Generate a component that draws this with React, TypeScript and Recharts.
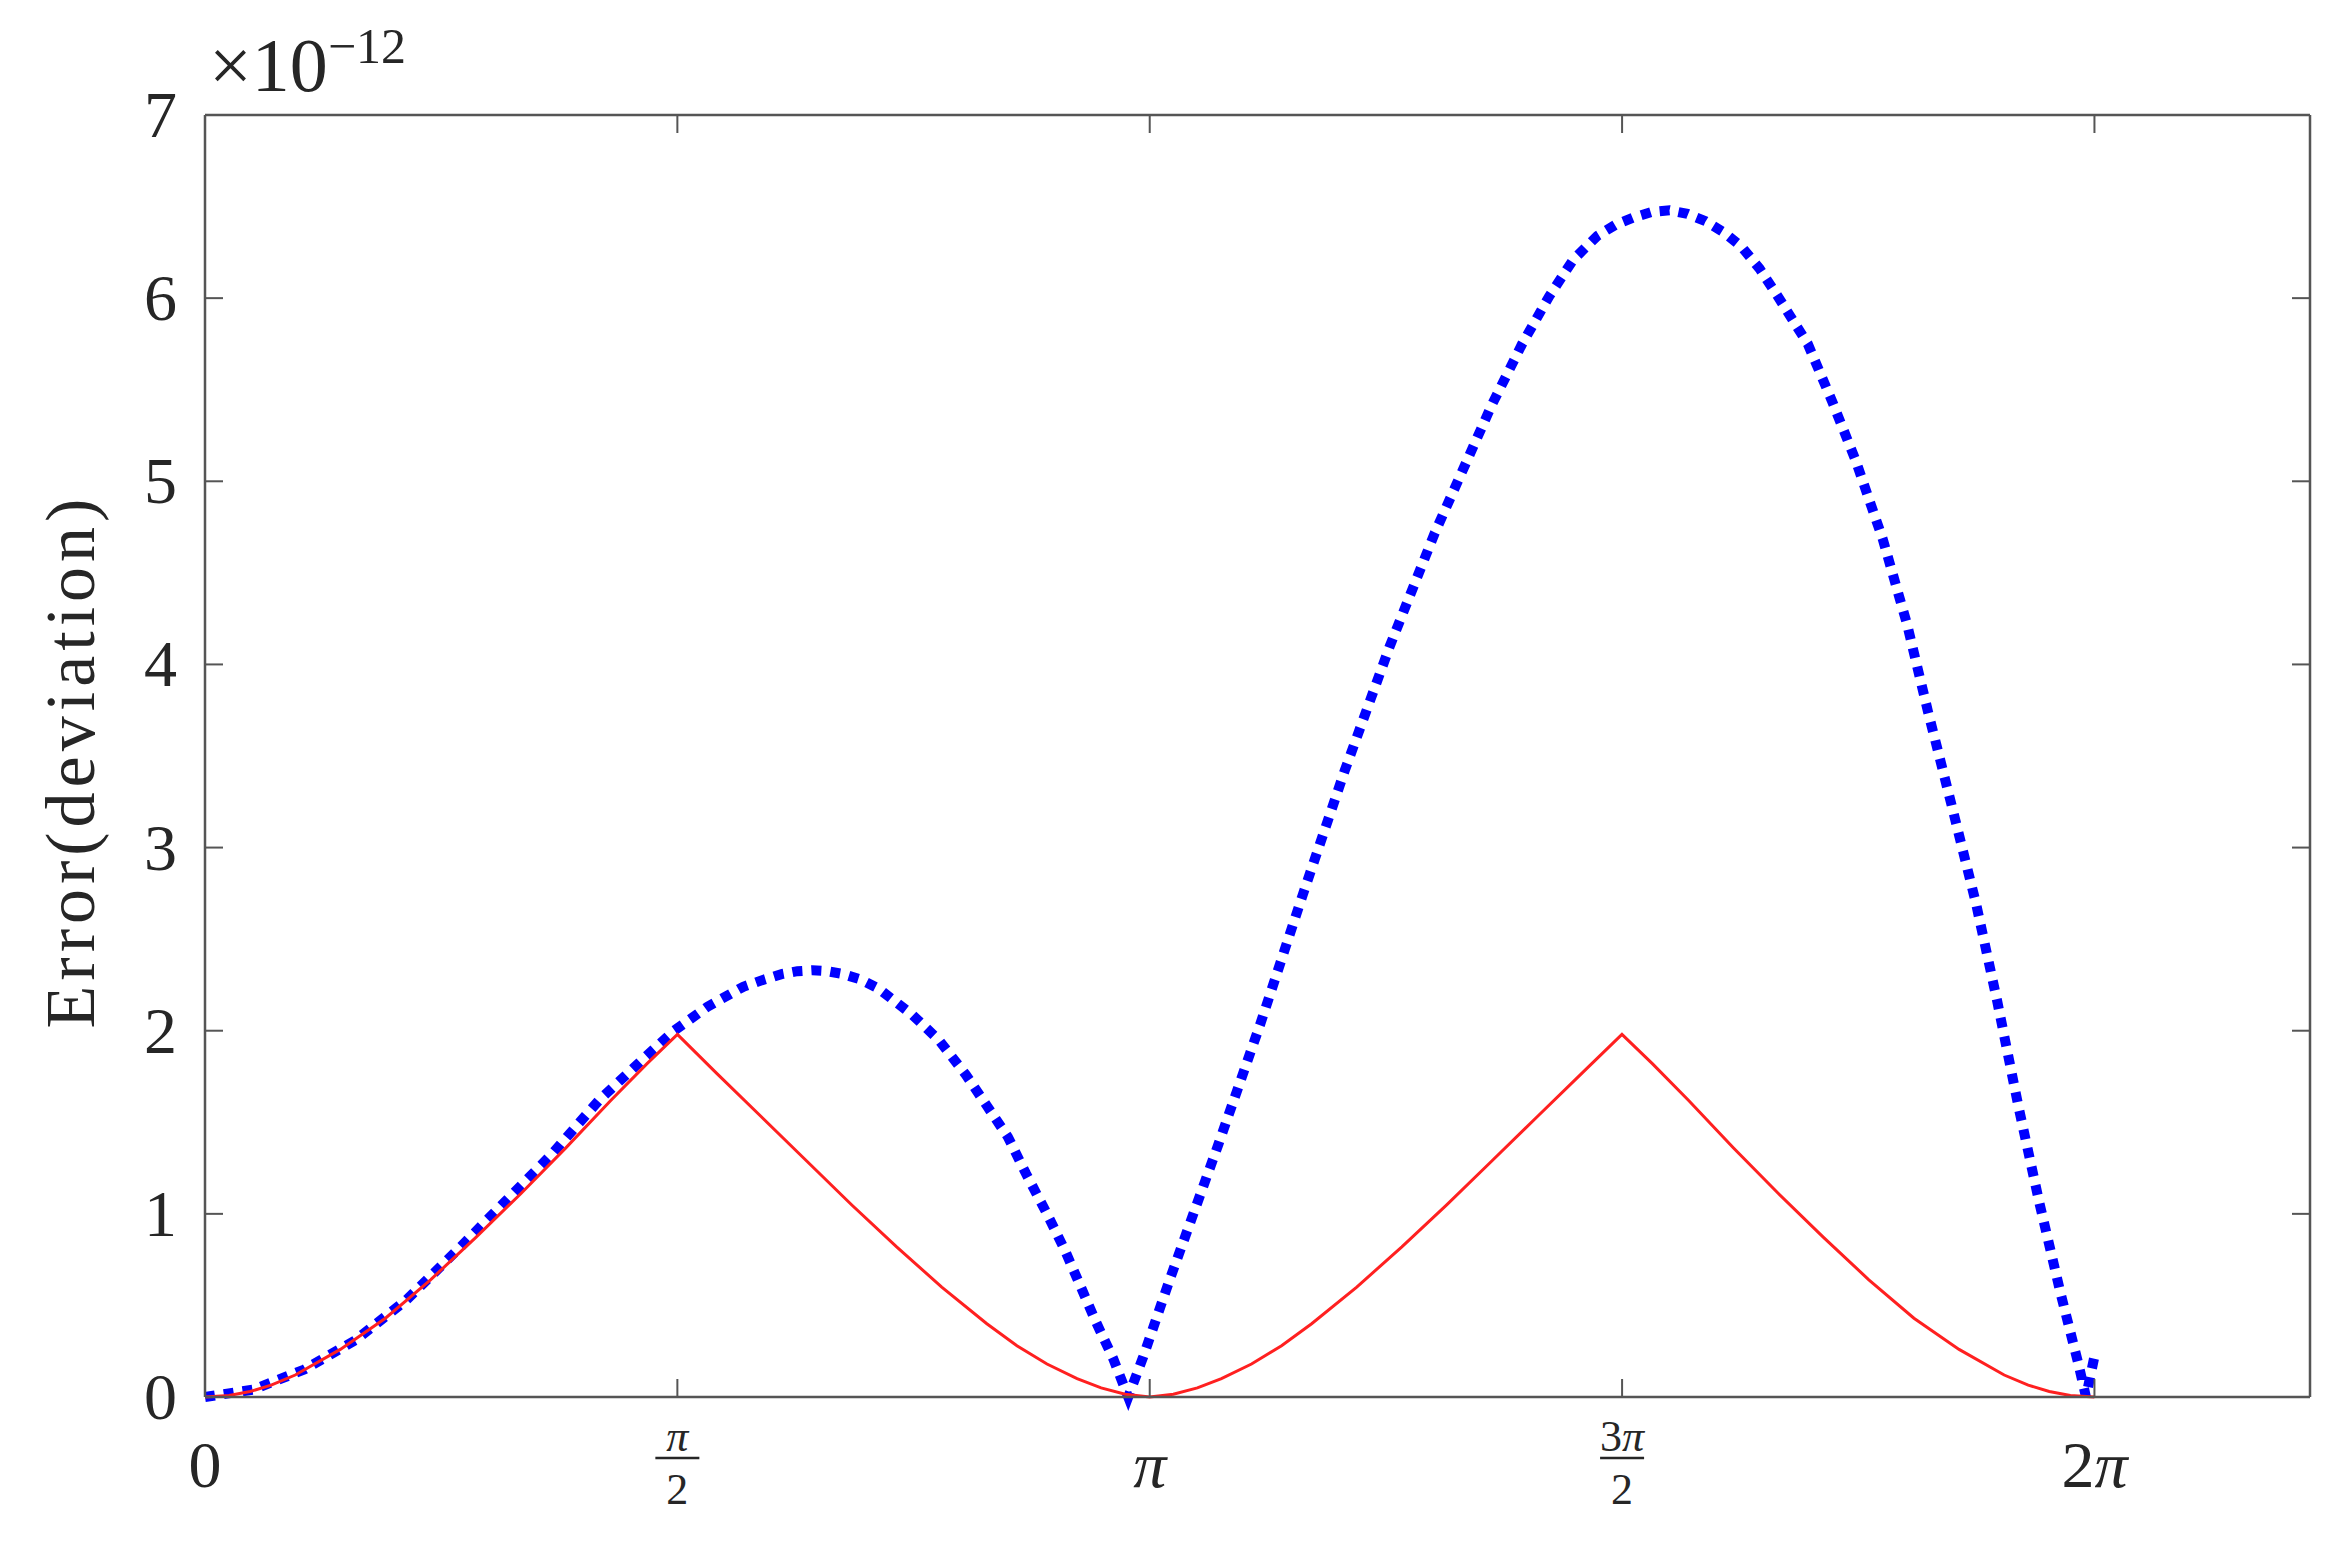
import React from 'react'
import { LineChart, Line, XAxis, YAxis } from 'recharts'

// x in radians, y in units of 1e-12
const redX = [
  0, 0.08, 0.15, 0.22, 0.3, 0.45, 0.6, 0.75, 0.9, 1.05, 1.2, 1.35, 1.47, 1.571,
  1.7, 1.85, 2.0, 2.15, 2.3, 2.45, 2.6, 2.7, 2.8, 2.9, 2.98, 3.06, 3.1416,
  3.22, 3.3, 3.38, 3.48, 3.58, 3.68, 3.83, 3.98, 4.13, 4.28, 4.43, 4.58, 4.712,
  4.813, 4.933, 5.083, 5.233, 5.383, 5.533, 5.683, 5.833, 5.983, 6.063, 6.133, 6.203, 6.283,
]
const redY = [
  0, 0.008, 0.03, 0.065, 0.12, 0.26, 0.43, 0.64, 0.87, 1.11, 1.36, 1.62, 1.82, 1.98,
  1.77, 1.53, 1.29, 1.05, 0.82, 0.6, 0.4, 0.28, 0.18, 0.1, 0.05, 0.015, 0,
  0.015, 0.05, 0.1, 0.18, 0.28, 0.4, 0.6, 0.82, 1.05, 1.29, 1.53, 1.77, 1.98,
  1.82, 1.62, 1.36, 1.11, 0.87, 0.64, 0.43, 0.26, 0.12, 0.065, 0.03, 0.008, 0,
]

const blueX = [
  0, 0.16, 0.33, 0.5, 0.67, 0.85, 1.0, 1.15, 1.31, 1.46, 1.56, 1.67, 1.79, 1.86, 1.92,
  1.97, 2.02, 2.07, 2.12, 2.18, 2.24, 2.35, 2.44, 2.53, 2.6, 2.67, 2.73, 2.8, 2.86,
  2.91, 2.96, 3.02, 3.07, 3.12, 3.21, 3.37, 3.51, 3.65, 3.79, 3.94, 4.09, 4.28, 4.38,
  4.47, 4.55, 4.63, 4.69, 4.75, 4.81, 4.87, 4.93, 4.99, 5.05, 5.11, 5.17, 5.23, 5.33,
  5.41, 5.49, 5.58, 5.66, 5.73, 5.81, 5.89, 5.96, 6.03, 6.1, 6.17, 6.23, 6.255, 6.283,
]
const blueY = [
  0, 0.04, 0.15, 0.31, 0.53, 0.82, 1.07, 1.32, 1.62, 1.85, 2.0, 2.13, 2.24, 2.28, 2.31,
  2.325, 2.33, 2.325, 2.31, 2.28, 2.23, 2.09, 1.95, 1.76, 1.59, 1.42, 1.22, 1.0, 0.8,
  0.61, 0.42, 0.21, 0, 0.22, 0.65, 1.38, 2.04, 2.74, 3.42, 4.1, 4.72, 5.42, 5.75,
  6.01, 6.21, 6.34, 6.4, 6.44, 6.47, 6.48, 6.46, 6.42, 6.36, 6.28, 6.16, 6.01, 5.75,
  5.44, 5.11, 4.68, 4.22, 3.74, 3.22, 2.69, 2.16, 1.59, 1.06, 0.57, 0.18, 0, 0.22,
]

const xTicks = [0, Math.PI / 2, Math.PI, (3 * Math.PI) / 2, 2 * Math.PI]
const xTickNum = ['0', 'π', 'π', '3π', '2π']
const xTickDen = ['', '2', '', '2', '']
const yTicks = [0, 1, 2, 3, 4, 5, 6, 7]

const redData = redX.map((x, i) => ({ x, y: redY[i] }))
const blueData = blueX.map((x, i) => ({ x, y: blueY[i] }))

const FONT = '"Liberation Serif", "Times New Roman", serif'
const INK = '#262626'
const FRAME = '#555'
const TICK = 18

function PiText({ s }: { s: string }) {
  const lead = s.replace('π', '')
  return (
    <>
      {lead}
      {s.includes('π') && <tspan fontStyle="italic">π</tspan>}
    </>
  )
}

function BottomTick(props: any) {
  const { x, y, index } = props
  const num = xTickNum[index]
  const den = xTickDen[index]
  return (
    <g>
      <line x1={x} y1={y} x2={x} y2={y - TICK} stroke={FRAME} strokeWidth={2} />
      {den ? (
        <g fontFamily={FONT} fill={INK} textAnchor="middle">
          <text x={x} y={y + 54} fontSize={44}>
            <PiText s={num} />
          </text>
          <line x1={x - 22} x2={x + 22} y1={y + 61} y2={y + 61} stroke={INK} strokeWidth={2.5} />
          <text x={x} y={y + 107} fontSize={44}>{den}</text>
        </g>
      ) : (
        <text x={x} y={y + 90} fontFamily={FONT} fontSize={66} fill={INK} textAnchor="middle">
          <PiText s={num} />
        </text>
      )}
    </g>
  )
}

function TopTick(props: any) {
  const { x, y } = props
  return <line x1={x} y1={y} x2={x} y2={y + TICK} stroke={FRAME} strokeWidth={2} />
}

function LeftTick(props: any) {
  const { x, y, payload } = props
  return (
    <g>
      <line x1={x} y1={y} x2={x + TICK} y2={y} stroke={FRAME} strokeWidth={2} />
      <text x={x - 28} y={y + 22} fontFamily={FONT} fontSize={66} fill={INK} textAnchor="end">
        {payload.value}
      </text>
    </g>
  )
}

function RightTick(props: any) {
  const { x, y } = props
  return <line x1={x - TICK} y1={y} x2={x} y2={y} stroke={FRAME} strokeWidth={2} />
}

function YLabel(props: any) {
  const vb = props.viewBox
  const cx = vb.x - 35
  const cy = vb.y + vb.height / 2 + 5
  return (
    <text
      x={cx}
      y={cy}
      transform={`rotate(-90 ${cx} ${cy})`}
      textAnchor="middle"
      dominantBaseline="central"
      fontFamily={FONT}
      fontSize={70}
      letterSpacing={5}
      fill={INK}
    >
      Error(deviation)
    </text>
  )
}

// exponent label above the top-left corner of the frame
function ScaleLabel(props: any) {
  const vb = props.viewBox
  return (
    <text x={vb.x + 4} y={vb.y - 23} fontFamily={FONT} fontSize={76} fill={INK}>
      ×10
      <tspan fontSize={50} dy={-28}>−12</tspan>
    </text>
  )
}

export default function App() {
  return (
    <div style={{ position: 'absolute', left: 0, top: 0, width: 2350, height: 1550, background: '#fff' }}>
      <LineChart width={2350} height={1550} margin={{ top: 114, right: 39, bottom: 53, left: 105 }}>
        <XAxis
          xAxisId="b"
          dataKey="x"
          type="number"
          domain={[0, 7]}
          ticks={xTicks}
          interval={0}
          height={100}
          tickSize={0}
          tickMargin={0}
          tickLine={false}
          axisLine={{ stroke: FRAME, strokeWidth: 2.5 }}
          tick={<BottomTick />}
        />
        <XAxis
          xAxisId="t"
          orientation="top"
          dataKey="x"
          type="number"
          domain={[0, 7]}
          ticks={xTicks}
          interval={0}
          height={1}
          tickSize={0}
          tickMargin={0}
          tickLine={false}
          axisLine={{ stroke: FRAME, strokeWidth: 2.5 }}
          tick={<TopTick />}
          label={(p: any) => <ScaleLabel {...p} />}
        />
        <YAxis
          yAxisId="l"
          type="number"
          domain={[0, 7]}
          ticks={yTicks}
          interval={0}
          width={100}
          tickSize={0}
          tickMargin={0}
          tickLine={false}
          axisLine={{ stroke: FRAME, strokeWidth: 2.5 }}
          tick={<LeftTick />}
          label={(p: any) => <YLabel {...p} />}
        />
        <YAxis
          yAxisId="r"
          orientation="right"
          type="number"
          domain={[0, 7]}
          ticks={yTicks}
          interval={0}
          width={1}
          tickSize={0}
          tickMargin={0}
          tickLine={false}
          axisLine={{ stroke: FRAME, strokeWidth: 2.5 }}
          tick={<RightTick />}
        />
        <Line
          xAxisId="b"
          yAxisId="l"
          data={blueData}
          dataKey="y"
          type="linear"
          stroke="#0000ff"
          strokeWidth={10}
          strokeDasharray="10 9"
          dot={false}
          isAnimationActive={false}
        />
        <Line
          xAxisId="t"
          yAxisId="r"
          data={redData}
          dataKey="y"
          type="linear"
          stroke="#ff2020"
          strokeWidth={3}
          dot={false}
          isAnimationActive={false}
        />
      </LineChart>
    </div>
  )
}
